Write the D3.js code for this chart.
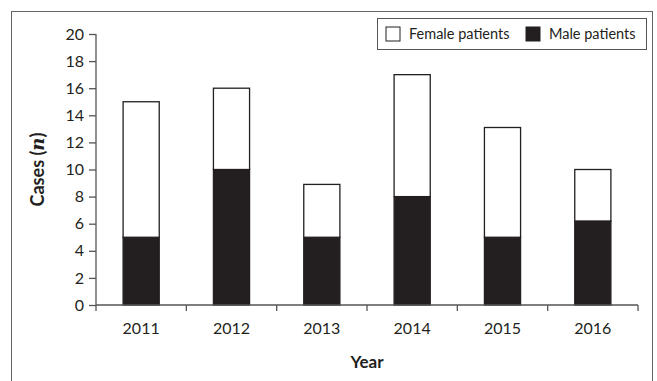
<html>
<head>
    <meta charset="utf-8">
    <title>Cases by year</title>
    <style>
        body { margin: 0; background: #fff; }
        text { font-family: Lato, "Open Sans", sans-serif; fill: #231f20; }
    </style>
</head>
<body>
    <script src="https://cdn.jsdelivr.net/npm/d3@7/dist/d3.min.js"></script>
    <script>
        var width = 657, height = 381;
        var years = ["2011", "2012", "2013", "2014", "2015", "2016"];
        var male = [5, 10, 5, 8, 5, 6.2];
        var female = [10, 6, 3.9, 9, 8.1, 3.8];
        var yTicks = [0, 2, 4, 6, 8, 10, 12, 14, 16, 18, 20];
        var seriesNames = ["Female patients", "Male patients"];

        var margin = { left: 96, right: 19, top: 34, bottom: 76 };
        var ink = "#231f20", axisColor = "#555";

        var svg = d3.select("body").append("svg")
            .attr("width", width)
            .attr("height", height);

        // outer frame, bottom edge falls off the picture
        svg.append("rect")
            .attr("x", 11.5).attr("y", 11.5)
            .attr("width", 641).attr("height", 400)
            .attr("fill", "none").attr("stroke", "#666").attr("stroke-width", 1);

        var x = d3.scaleBand()
            .domain(years)
            .range([margin.left, width - margin.right])
            .paddingInner(0.6).paddingOuter(0.3);
        var y = d3.scaleLinear()
            .domain([0, 20])
            .range([height - margin.bottom, margin.top]);

        var rows = years.map(function (d, i) { return { year: d, male: male[i], female: female[i] }; });
        var stack = d3.stack().keys(["male", "female"]);
        var layers = stack(rows);

        var g = svg.append("g");
        g.selectAll("g.layer")
            .data(layers)
            .enter().append("g")
            .attr("class", "layer")
            .attr("fill", function (d) { return d.key == "male" ? ink : "#fff"; })
            .selectAll("rect")
            .data(function (d) { return d; })
            .enter().append("rect")
            .attr("x", function (d) { return x(d.data.year); })
            .attr("y", function (d) { return y(d[1]); })
            .attr("width", x.bandwidth())
            .attr("height", function (d) { return y(d[0]) - y(d[1]); })
            .attr("stroke", ink)
            .attr("stroke-width", 1.3);

        // y axis
        var yAxis = svg.append("g")
            .attr("transform", "translate(" + margin.left + ",0)")
            .call(d3.axisLeft(y).tickValues(yTicks).tickSize(7).tickPadding(5));
        yAxis.selectAll("text").style("font-size", "16px");

        // x axis: ticks on band edges
        var x0 = margin.left, x1 = width - margin.right, yBase = y(0);
        var step = (x1 - x0) / years.length;
        var xa = svg.append("g");
        xa.append("line")
            .attr("x1", x0).attr("x2", x1).attr("y1", yBase).attr("y2", yBase);
        xa.selectAll("line.tk")
            .data(d3.range(years.length + 1))
            .enter().append("line")
            .attr("class", "tk")
            .attr("x1", function (i) { return x0 + i * step; })
            .attr("x2", function (i) { return x0 + i * step; })
            .attr("y1", yBase).attr("y2", yBase + 6);
        xa.selectAll("line").attr("stroke", axisColor).attr("stroke-width", 1.3);
        xa.selectAll("text")
            .data(years)
            .enter().append("text")
            .attr("x", function (d) { return x(d) + x.bandwidth() / 2; })
            .attr("y", yBase + 29)
            .attr("text-anchor", "middle")
            .style("font-size", "16px")
            .text(function (d) { return d; });

        yAxis.select(".domain").attr("stroke", axisColor).attr("stroke-width", 1.3)
            .attr("d", "M-0," + y(20) + "H0V" + yBase);
        yAxis.selectAll(".tick line").attr("stroke", axisColor).attr("stroke-width", 1.3);
        yAxis.selectAll(".tick text").attr("fill", ink);

        // axis titles
        svg.append("text")
            .attr("x", (x0 + x1) / 2).attr("y", yBase + 63)
            .attr("text-anchor", "middle")
            .style("font-size", "17px").style("font-weight", "bold")
            .text("Year");
        var yt = svg.append("text")
            .attr("transform", "translate(44," + (y(20) + yBase) / 2 + ") rotate(-90)")
            .attr("text-anchor", "middle")
            .style("font-size", "18px").style("font-weight", "bold");
        yt.append("tspan").text("Cases (");
        yt.append("tspan").style("font-style", "italic").style("font-family", "'DejaVu Serif', serif").text("n");
        yt.append("tspan").text(")");

        // legend
        var lg = svg.append("g");
        lg.append("rect")
            .attr("x", 377.5).attr("y", 18.5).attr("width", 269).attr("height", 31)
            .attr("fill", "#fff").attr("stroke", "#555").attr("stroke-width", 1);
        var items = lg.selectAll("g.item")
            .data(seriesNames)
            .enter().append("g")
            .attr("class", "item")
            .attr("transform", function (d, i) { return "translate(" + (386 + i * 140) + ",27)"; });
        items.append("rect")
            .attr("width", 14).attr("height", 14)
            .attr("fill", function (d, i) { return i == 0 ? "#fff" : ink; })
            .attr("stroke", ink).attr("stroke-width", 1);
        items.append("text")
            .attr("x", 23).attr("y", 12)
            .style("font-size", "14.5px")
            .text(function (d) { return d; });
    </script>
</body>
</html>
